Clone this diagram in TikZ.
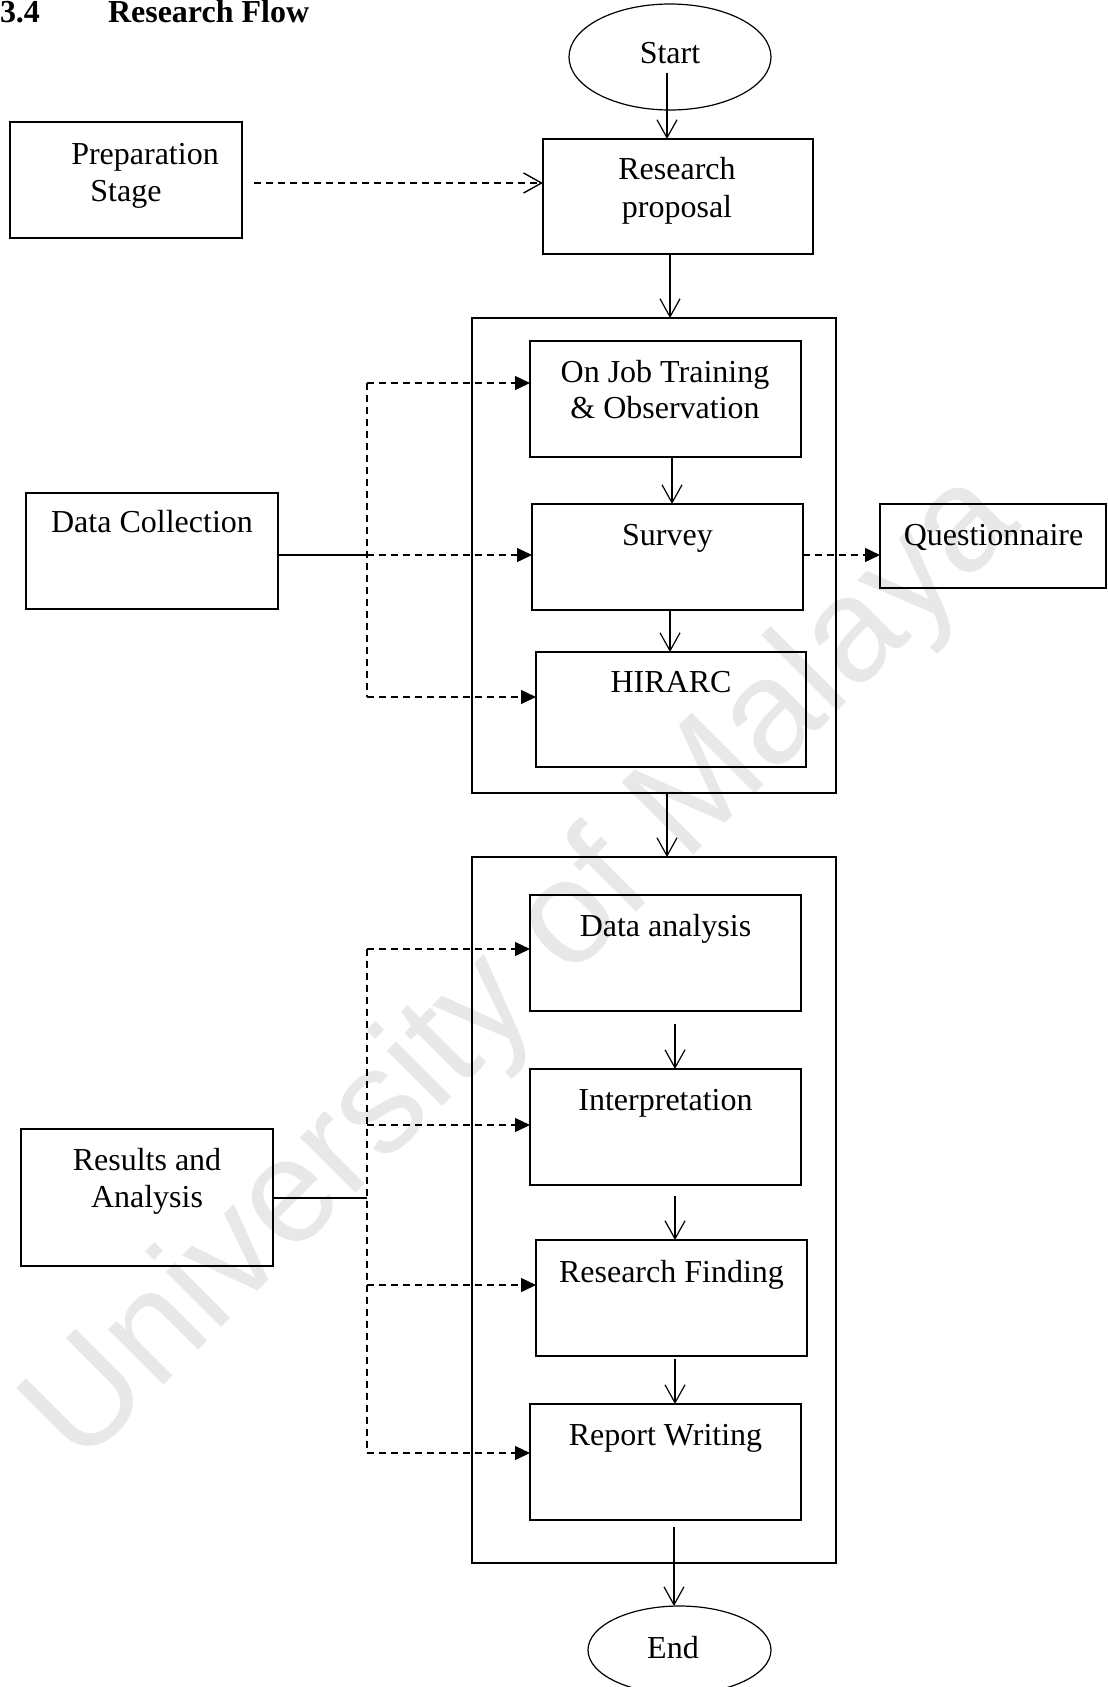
\documentclass[tikz,border=0pt]{standalone}
\usepackage{fontspec}
\setmainfont{Liberation Serif}
\newfontfamily\wmfont{Liberation Sans}
\usetikzlibrary{arrows.meta,shapes.geometric}
\begin{document}
\begin{tikzpicture}[x=0.5pt,y=-0.5pt,
  every node/.style={inner sep=0pt, outer sep=0pt},
  txt/.style={anchor=base, font=\fontsize{16}{18.8}\selectfont},
  bx/.style={draw, line width=0.6pt, rectangle},
  outerbox/.style={draw, line width=1pt, rectangle},
  oval/.style={draw, line width=0.6pt, ellipse},
  arr/.style={line width=0.6pt, -{Straight Barb[length=9pt,width=10pt]}},
  ln/.style={line width=0.7pt},
  dsh/.style={line width=0.7pt, dash pattern=on 3.5pt off 2.5pt},
  darr/.style={dsh, -{Triangle[length=7.5pt,width=7pt]}},
  darro/.style={dsh, -{Straight Barb[length=9pt,width=10pt]}},
]
\useasboundingbox (0,0) rectangle (1108,1687);
\clip (0,0) rectangle (1108,1687);
% watermark
\node[rotate=45, anchor=base, text=black!9, font=\wmfont\fontsize{74}{74}\selectfont] (wm) at (552,997) {University of Malaya};
% title
\node[anchor=base west, font=\bfseries\fontsize{16}{18.8}\selectfont] (t34) at (0,22) {3.4};
\node[anchor=base west, font=\bfseries\fontsize{16}{18.8}\selectfont] (ttl) at (108,22) {Research Flow};
% start
\node[oval, minimum width=101pt, minimum height=53pt] (start) at (670,57) {};
\node[txt] (tstart) at (670,63) {Start};
% research proposal
\node[bx, minimum width=135pt, minimum height=57.5pt] (rp) at (678,196.5) {};
\node[txt] (trp1) at (677,179) {Research};
\node[txt] (trp2) at (677,217) {proposal};
% preparation
\node[bx, minimum width=116pt, minimum height=58pt] (prep) at (126,180) {};
\node[txt] (tprep1) at (145,164) {Preparation};
\node[txt] (tprep2) at (126,201) {Stage};
% outer 1
\node[outerbox, minimum width=182pt, minimum height=237.5pt] (o1) at (654,555.5) {};
\node[bx, minimum width=135.5pt, minimum height=58pt] (ojt) at (665.5,399) {};
\node[txt] (tojt1) at (665,382) {On Job Training};
\node[txt] (tojt2) at (665,418) {\& Observation};
\node[bx, minimum width=135.5pt, minimum height=53pt] (sur) at (667.5,557) {};
\node[txt] (tsur) at (667.5,545) {Survey};
\node[bx, minimum width=135pt, minimum height=57.5pt] (hir) at (671,709.5) {};
\node[txt] (thir) at (671,692) {HIRARC};
% data collection
\node[bx, minimum width=126pt, minimum height=58pt] (dc) at (152,551) {};
\node[txt] (tdc) at (152,532) {Data Collection};
% questionnaire
\node[bx, minimum width=113pt, minimum height=42pt] (q) at (993,546) {};
\node[txt] (tq) at (993.5,545) {Questionnaire};
% outer 2
\node[outerbox, minimum width=182pt, minimum height=353pt] (o2) at (654,1210) {};
\node[bx, minimum width=135.5pt, minimum height=58pt] (da) at (665.5,953) {};
\node[txt] (tda) at (665.5,936) {Data analysis};
\node[bx, minimum width=135.5pt, minimum height=58pt] (ip) at (665.5,1127) {};
\node[txt] (tip) at (665.5,1110) {Interpretation};
\node[bx, minimum width=135.5pt, minimum height=58pt] (rf) at (671.5,1298) {};
\node[txt] (trf) at (671.5,1282) {Research Finding};
\node[bx, minimum width=135.5pt, minimum height=58pt] (rw) at (665.5,1462) {};
\node[txt] (trw) at (665.5,1445) {Report Writing};
% results
\node[bx, minimum width=126pt, minimum height=68.5pt] (res) at (147,1197.5) {};
\node[txt] (tres1) at (147,1170) {Results and};
\node[txt] (tres2) at (147,1207) {Analysis};
% end
\node[oval, minimum width=91.5pt, minimum height=44pt] (end) at (679.5,1650) {};
\node[txt] (tend) at (673,1658) {End};
% main flow arrows
\coordinate (s1) at (667,73);
\draw[arr] (s1) -- (s1 |- rp.north);
\coordinate (s2) at (670,254);
\draw[arr] (s2) -- (s2 |- o1.north);
\coordinate (s3) at (672,457);
\draw[arr] (s3) -- (s3 |- sur.north);
\coordinate (s4) at (670,610);
\draw[arr] (s4) -- (s4 |- hir.north);
\coordinate (s5) at (667,793);
\draw[arr] (s5) -- (s5 |- o2.north);
\coordinate (s6) at (675,1024);
\draw[arr] (s6) -- (s6 |- ip.north);
\coordinate (s7) at (675,1196);
\draw[arr] (s7) -- (s7 |- rf.north);
\coordinate (s8) at (675,1359);
\draw[arr] (s8) -- (s8 |- rw.north);
\coordinate (s9) at (674,1527);
\draw[arr] (s9) -- (s9 |- end.north);
% preparation dashed
\coordinate (p1) at (254,183);
\draw[darro] (p1) -- (p1 -| rp.west);
% data collection branches
\coordinate (v1) at (367,383);
\coordinate (v2) at (367,555);
\coordinate (v3) at (367,697);
\draw[ln] (dc.east |- v2) -- (v2);
\draw[dsh] (v1) -- (v3);
\draw[darr] (v1) -- (v1 -| ojt.west);
\draw[darr] (v2) -- (v2 -| sur.west);
\draw[darr] (v3) -- (v3 -| hir.west);
\coordinate (qq) at (803,555);
\draw[darr] (qq) -- (qq -| q.west);
% results branches
\coordinate (w1) at (367,949);
\coordinate (w2) at (367,1125);
\coordinate (w3) at (367,1285);
\coordinate (w4) at (367,1453);
\coordinate (wm1) at (367,1198);
\draw[ln] (res.east |- wm1) -- (wm1);
\draw[dsh] (w1) -- (w4);
\draw[darr] (w1) -- (w1 -| da.west);
\draw[darr] (w2) -- (w2 -| ip.west);
\draw[darr] (w3) -- (w3 -| rf.west);
\draw[darr] (w4) -- (w4 -| rw.west);
\end{tikzpicture}
\end{document}
